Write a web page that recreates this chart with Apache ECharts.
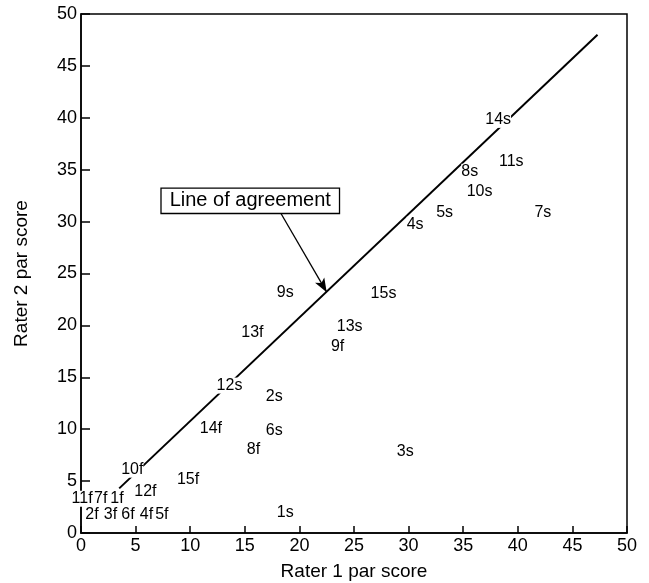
<!DOCTYPE html>
<html><head><meta charset="utf-8">
<script src="https://cdn.jsdelivr.net/npm/echarts@6/dist/echarts.min.js"></script>
<style>html,body{margin:0;padding:0;background:#fff}#c{width:649px;height:583px}</style>
</head><body><div id="c"></div>
<script>
var pointLabels = ['14s','11s','8s','10s','5s','7s','4s','9s','15s','13s','9f','13f','12s','2s','14f','6s','8f','3s','10f','15f','12f','11f','7f','1f','2f','3f','6f','4f','5f','1s'];
var rater1 = [38.2,39.4,35.6,36.5,33.3,42.3,30.6,18.7,27.7,24.6,23.5,15.7,13.6,17.7,11.9,17.7,15.8,29.7,4.7,9.8,5.9,0.1,1.8,3.3,1.0,2.7,4.3,6.0,7.4,18.7];
var rater2 = [39.8,35.8,34.8,32.9,30.9,30.9,29.7,23.2,23.1,19.9,18.0,19.3,14.2,13.1,10.1,9.9,8.0,7.8,6.1,5.1,4.0,3.3,3.3,3.3,1.8,1.8,1.8,1.8,1.8,2.0];
var agreeX = [3.5, 47.3];
var agreeY = [4.3, 48.0];
var noteText = 'Line of agreement';
var notePos = [15.5, 32.0];
var arrowX = [18.3, 22.5];
var arrowY = [30.8, 23.2];

var chart = echarts.init(document.getElementById('c'));
var font = 'Liberation Sans, Arial, sans-serif';
chart.setOption({
  animation: false,
  grid: {left: 81, right: 22, top: 14, bottom: 50, show: true, borderColor: '#000', borderWidth: 1.5,
    containLabel: false, outerBoundsMode: 'none'},
  xAxis: {type: 'value', min: 0, max: 50, interval: 5,
    name: 'Rater 1 par score', nameLocation: 'middle', nameGap: 29,
    nameTextStyle: {fontFamily: font, fontSize: 19, color: '#000'},
    axisLine: {lineStyle: {color: '#000', width: 1.5}},
    axisTick: {inside: true, length: 7, lineStyle: {color: '#000', width: 1.5}},
    axisLabel: {fontFamily: font, fontSize: 18, color: '#000', margin: 4},
    splitLine: {show: false}},
  yAxis: {type: 'value', min: 0, max: 50, interval: 5,
    name: 'Rater 2 par score', nameLocation: 'middle', nameGap: 50,
    nameTextStyle: {fontFamily: font, fontSize: 19, color: '#000'},
    axisLine: {lineStyle: {color: '#000', width: 1.5}},
    axisTick: {inside: true, length: 9, lineStyle: {color: '#000', width: 1.5}},
    axisLabel: {fontFamily: font, fontSize: 18, color: '#000', margin: 4},
    splitLine: {show: false}},
  series: [
    {type: 'line', data: agreeX.map(function(x,i){return [x, agreeY[i]];}), symbol: 'none',
     lineStyle: {color: '#000', width: 2}, z: 1,
     markLine: {silent: true, symbol: ['none','arrow'], symbolSize: [8,14], label: {show: false},
       lineStyle: {color: '#000', width: 1.3, type: 'solid'},
       data: [[{coord: [arrowX[0], arrowY[0]]}, {coord: [arrowX[1], arrowY[1]]}]]}},
    {type: 'scatter', symbolSize: 0, z: 5, itemStyle: {opacity: 1},
     data: rater1.map(function(x,i){return {name: pointLabels[i], value: [x, rater2[i]]};}),
     label: {show: true, position: 'inside', formatter: '{b}', fontFamily: font, fontSize: 16, color: '#000',
       backgroundColor: '#fff', padding: 0}},
    {type: 'scatter', symbolSize: 0, z: 6, itemStyle: {opacity: 1},
     data: [{name: noteText, value: notePos}],
     label: {show: true, position: 'inside', formatter: '{b}', fontFamily: font, fontSize: 20, color: '#000',
       backgroundColor: '#fff', borderColor: '#000', borderWidth: 1.3, padding: [2,8]}}
  ]
});
</script></body></html>
